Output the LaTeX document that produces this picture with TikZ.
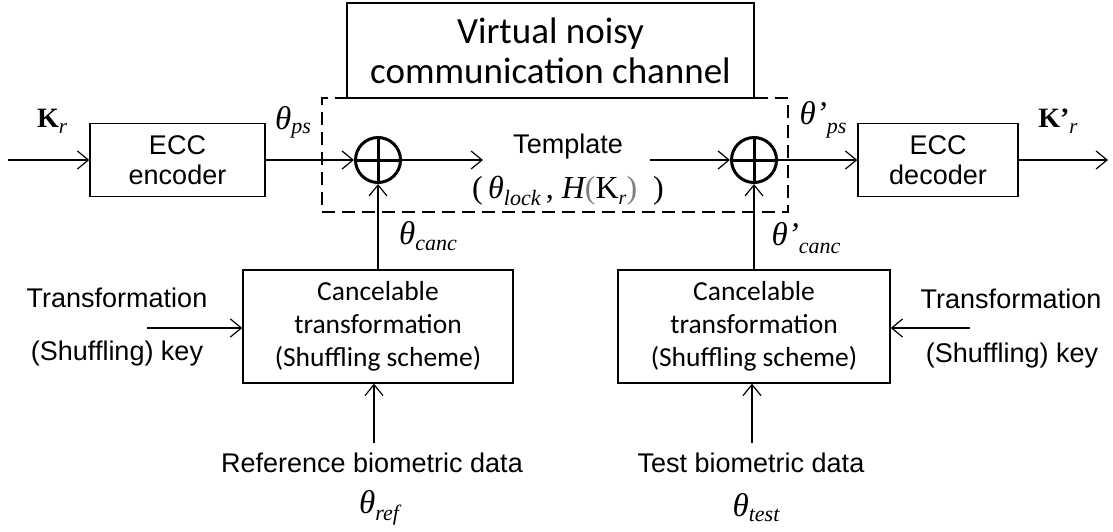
\documentclass[tikz,border=0pt]{standalone}
\usepackage{fontspec}
\setmainfont{Liberation Sans}
\newfontfamily\calib{Carlito}
\newfontfamily\tnr{Liberation Serif}
\usetikzlibrary{arrows.meta}
% theta with optional prime #1, subscript #2, drop #3
\newcommand\Thsym[3]{{\tnr\itshape\fontsize{33}{33}\selectfont θ#1\raisebox{#3}{\fontsize{22}{22}\selectfont #2}}}
\newcommand\Ksym[1]{{\tnr\bfseries\fontsize{28}{28}\selectfont K#1\raisebox{-6pt}{\mdseries\itshape\fontsize{21}{21}\selectfont r}}}
\begin{document}
\begin{tikzpicture}[x=1pt,y=-1pt,
  box/.style={draw, line width=1.3pt, inner sep=0pt},
  arr/.style={line width=1.2pt, -{Straight Barb[length=11pt,width=18pt,line width=1.2pt]}},
  ar/.style={font=\fontsize{27}{30}\selectfont, inner sep=0pt, align=center},
  cb/.style={font=\calib\fontsize{27.5}{33}\selectfont, align=center},
  lbl/.style={inner sep=0pt},
  oplus/.style={circle, draw, line width=3pt, minimum size=45pt, inner sep=0pt,
    path picture={\draw[line width=3pt] (path picture bounding box.north) -- (path picture bounding box.south)
      (path picture bounding box.west) -- (path picture bounding box.east);}}
]
\useasboundingbox (0,0) rectangle (1113,531);

% dashed template region and channel box
\node[draw, dash pattern=on 13pt off 7pt, line width=2pt, minimum width=466pt, minimum height=114pt, inner sep=0pt] (tmpl) at (555,155) {};
\node[box, fill=white, minimum width=407pt, minimum height=95pt, font=\calib\fontsize{37}{40}\selectfont, align=center] (chan) at (550.5,50.5) {Virtual noisy\\communication channel};

% main blocks
\node[box, ar, minimum width=175pt, minimum height=73pt] (enc) at (177.5,160) {ECC\\encoder};
\node[box, ar, minimum width=160pt, minimum height=73pt] (dec) at (938,160) {ECC\\decoder};
\node[oplus] (p1) at (378,160) {};
\node[oplus] (p2) at (754,160) {};
\node[box, cb, minimum width=270pt, minimum height=113pt] (ck1) at (378,326.5) {Cancelable\\transformation\\(Shuffling scheme)};
\node[box, cb, minimum width=272pt, minimum height=113pt] (ck2) at (754,326.5) {Cancelable\\transformation\\(Shuffling scheme)};

% template text
\node[ar, anchor=base] (tt) at (568,153) {Template};
\node[lbl] (tl) at (568,191) {{\tnr\fontsize{32}{32}\selectfont (\,{\itshape θ}\raisebox{-7pt}{\itshape\fontsize{22}{22}\selectfont lock}\,, {\itshape H}\textcolor{gray}{(}K\raisebox{-6pt}{\itshape\fontsize{20}{20}\selectfont r}\textcolor{gray}{)}\ \ )}};

% labels
\node[lbl] (lk) at (52,121) {\Ksym{}};
\node[lbl] (lps) at (293,122) {\Thsym{}{ps}{-4pt}};
\node[lbl] (lps2) at (823,120) {\Thsym{’}{ps}{-9pt}};
\node[lbl] (lk2) at (1058,121) {\Ksym{’}};
\node[lbl] (lc1) at (428,236) {\Thsym{}{canc}{-6pt}};
\node[lbl] (lc2) at (806,238) {\Thsym{’}{canc}{-8pt}};

% side labels
\node[ar, anchor=base] (tk1) at (117,307) {Transformation};
\node[ar, anchor=base] (sk1) at (117,360) {(Shuffling) key};
\node[ar, anchor=base] (tk2) at (1011,308) {Transformation};
\node[ar, anchor=base] (sk2) at (1012,362) {(Shuffling) key};

% bottom labels
\node[ar, anchor=base] (rb) at (372,472) {Reference biometric data};
\node[lbl] (lr) at (379,508) {\Thsym{}{ref}{-7pt}};
\node[ar, anchor=base] (tb) at (751,472) {Test biometric data};
\node[lbl] (lt) at (756,508) {\Thsym{}{test}{-5pt}};

% free ends
\coordinate (in) at (8,160);
\coordinate (out) at (1108,160);
\coordinate (t1) at (483,160);
\coordinate (t2) at (650,160);
\coordinate (k1) at (147,328);
\coordinate (k2) at (970,328);
\coordinate (b1) at (374,443);
\coordinate (b2) at (752,443);

% connectors
\draw[arr] (in) -- (enc.west);
\draw[arr] (enc.east) -- (p1.west);
\draw[arr] (p1.east) -- (t1);
\draw[arr] (t2) -- (p2.west);
\draw[arr] (p2.east) -- (dec.west);
\draw[arr] (dec.east) -- (out);
\draw[arr] (ck1.north) -- (p1.south);
\draw[arr] (ck2.north) -- (p2.south);
\draw[arr] (k1) -- (k1 -| ck1.west);
\draw[arr] (k2) -- (k2 -| ck2.east);
\draw[arr] (b1) -- (b1 |- ck1.south);
\draw[arr] (b2) -- (b2 |- ck2.south);
\end{tikzpicture}
\end{document}
